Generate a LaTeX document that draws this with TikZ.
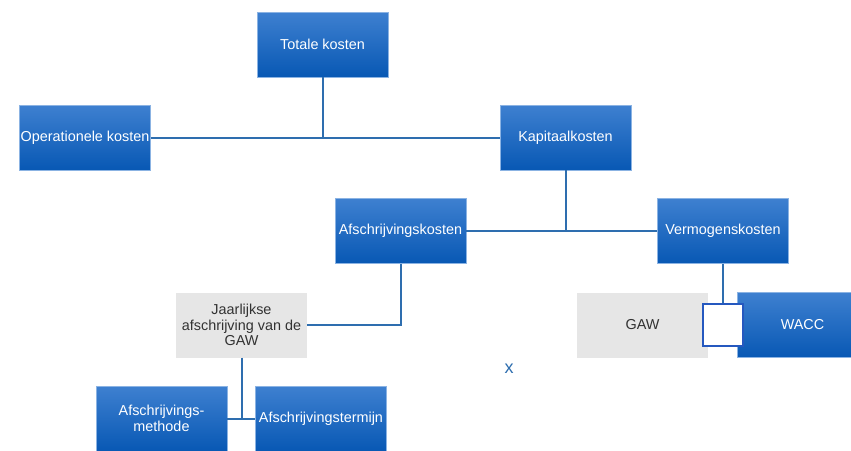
\documentclass[tikz,border=0pt]{standalone}
\usepackage{fontspec}
\setmainfont{Liberation Sans}
\usepackage{tikz}
\usetikzlibrary{positioning}

\definecolor{blauwtop}{RGB}{62,128,208}
\definecolor{blauwbodem}{RGB}{8,88,180}
\definecolor{lijnblauw}{RGB}{46,110,175}
\definecolor{grijsvlak}{RGB}{230,230,230}
\definecolor{grijstekst}{RGB}{50,50,50}

\tikzset{
  blok/.style={minimum width=131pt,minimum height=65pt,inner sep=0pt,
    align=center,font=\fontsize{14.4}{15.5}\selectfont},
  blauw/.style={blok,top color=blauwtop,bottom color=blauwbodem,
    draw=blauwtop!60!white,line width=0.6pt,text=white},
  grijs/.style={blok,fill=grijsvlak,text=grijstekst},
  lijn/.style={draw=lijnblauw,line width=2pt}
}

\begin{document}
\begin{tikzpicture}[x=1pt,y=-1pt]
\useasboundingbox (0,0) rectangle (851,450);
\clip (0,0) rectangle (851,450);
\fill[white] (0,0) rectangle (851,450);
% bovenste lagen
\node[blauw] (tot) at (322.5,44.5) {Totale kosten};
\node[blauw] (ops) at (85,137.5) {Operationele kosten};
\node[blauw] (kap) at (565.5,137.5) {Kapitaalkosten};
\node[blauw] (afs) at (400.5,231) {Afschrijvingskosten};
\node[blauw] (verm) at (723,231) {Vermogenskosten};
% onderste lagen
\node[grijs] (jaar) at (241.5,325) {Jaarlijkse\\afschrijving van de\\GAW};
\node[grijs] (gaw) at (642.5,325) {GAW};
\node[blauw] (wacc) at (802.5,325) {WACC};
\node[blauw] (meth) at (161.5,418.5) {Afschrijvings-\\methode};
\node[blauw] (term) at (321,418.5) {Afschrijvingstermijn};
\node[fill=white,draw=lijnblauw!80!blue,line width=2.8pt,minimum width=40pt,
  minimum height=42pt,inner sep=0pt] (vak) at (723,325) {};
\node[text=lijnblauw,font=\fontsize{18}{20}\selectfont] (kruis) at (509,369) {x};
% verbindingen
\draw[lijn] (ops) -- (kap);
\draw[lijn] (tot) -- (tot |- ops);
\draw[lijn] (afs) -- (verm);
\draw[lijn] (kap) -- (kap |- afs);
\draw[lijn] (afs.south) |- (jaar.east);
\draw[lijn] (meth) -- (term);
\draw[lijn] (jaar) -- (jaar |- meth);
\draw[lijn] (verm) -- (vak);
\end{tikzpicture}
\end{document}
